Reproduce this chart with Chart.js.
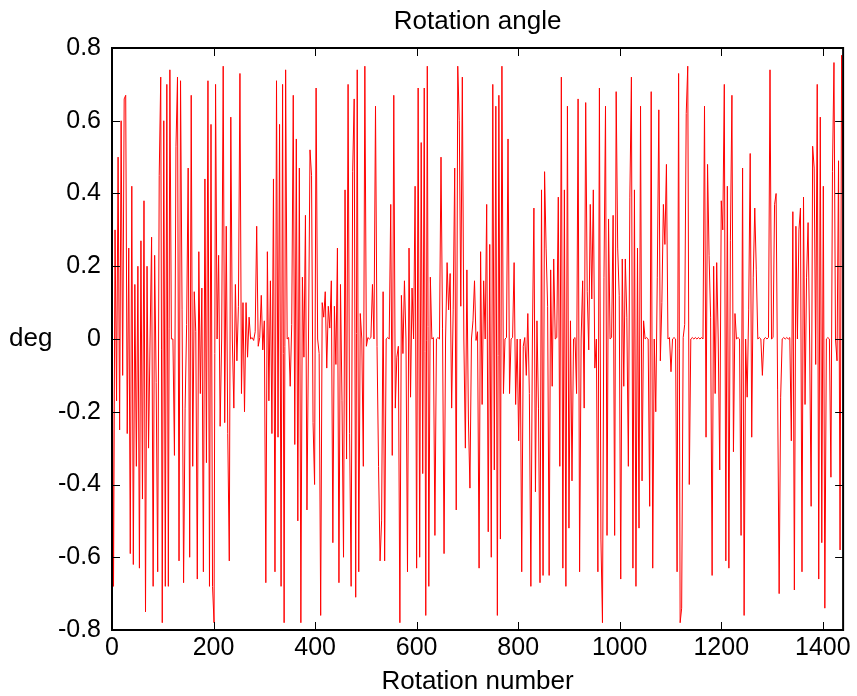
<!DOCTYPE html>
<html>
<head>
<meta charset="utf-8">
<script src="https://cdn.jsdelivr.net/npm/chart.js@4/dist/chart.umd.min.js"></script>
<style>
  html, body { margin: 0; padding: 0; background: #fff; }
  #wrap { width: 857px; height: 696px; }
</style>
</head>
<body>
<div id="wrap"><canvas id="chart" width="857" height="696"></canvas></div>
<script>
// Rotation angle (deg), one reading every ROTATION_STEP rotations, in blocks of 240 rotations
const ROTATION_STEP = 3;

const angle0000 = [
  0.2, -0.68, 0.3, -0.17, 0.5, -0.25, 0.6, -0.1, 0.66, 0.67,
  -0.26, 0.25, -0.59, 0.42, -0.62, 0.15, -0.35, 0.2, -0.63, 0.27,
  -0.44, 0.38, -0.75, 0.2, -0.3, 0.0, 0.28, -0.68, 0.23, -0.12,
  -0.64, 0.45, 0.72, -0.78, 0.6, -0.68, 0.7, -0.68, 0.74, 0.0,
  0.0, -0.32, 0.53, 0.72, -0.61, 0.71, 0.08, -0.67, -0.19, 0.04,
  0.47, -0.6, 0.67, -0.35, 0.13, 0.02, -0.66, 0.24, -0.15, 0.14,
  -0.64, 0.44, -0.34, 0.71, -0.68, 0.59, -0.68, -0.78, 0.7, 0.0,
  0.23, -0.24, 0.0, 0.75, -0.23, 0.31, -0.26, -0.61, 0.61, 0.0
];
const angle0240 = [
  -0.19, 0.15, -0.06, 0.09, 0.73, -0.15, 0.1, -0.2, 0.1, -0.05,
  0.06, 0.0, 0.004, -0.004, 0.02, 0.31, -0.02, 0.004, 0.12, -0.03,
  0.05, -0.67, 0.24, -0.17, 0.16, -0.26, 0.44, -0.64, 0.71, -0.27,
  0.59, -0.68, 0.7, -0.78, 0.74, 0.0, 0.004, -0.13, 0.04, 0.67,
  -0.29, 0.55, -0.5, 0.47, -0.78, 0.17, -0.05, 0.34, -0.47, 0.0,
  0.52, 0.45, -0.23, -0.4, 0.69, 0.0, -0.04, -0.76, 0.1, 0.06,
  0.13, -0.08, 0.09, 0.03, 0.16, -0.56, 0.09, -0.07, 0.25, -0.67,
  0.15, -0.17, -0.6, 0.41, -0.33, 0.7, -0.26, -0.68, 0.46, 0.66
];
const angle0480 = [
  -0.71, 0.74, -0.64, 0.07, 0.0, -0.35, 0.75, -0.02, 0.004, 0.0,
  0.004, 0.15, 0.0, 0.64, -0.02, -0.35, -0.61, -0.5, 0.13, -0.61,
  0.0, 0.004, 0.0, 0.37, -0.32, 0.67, -0.19, -0.05, -0.02, -0.78,
  0.12, -0.04, 0.16, 0.0, -0.64, 0.25, -0.16, 0.14, 0.0, 0.42,
  -0.63, 0.69, -0.6, 0.54, -0.37, 0.69, -0.76, 0.75, -0.68, 0.17,
  0.0, 0.004, -0.54, 0.0, 0.004, 0.0, 0.5, 0.03, -0.59, 0.0,
  0.21, 0.08, 0.18, -0.19, 0.08, 0.47, -0.47, 0.75, 0.6, 0.09,
  0.72, 0.0, -0.3, 0.19, -0.22, -0.41, 0.0, 0.05, 0.16, -0.004
];
const angle0720 = [
  0.02, -0.63, 0.24, -0.18, 0.16, 0.0, 0.37, -0.53, 0.26, -0.6,
  0.7, -0.36, 0.64, -0.76, 0.67, -0.55, 0.75, -0.15, 0.0, 0.004,
  0.55, -0.15, 0.0, 0.004, 0.21, -0.18, 0.0, -0.28, 0.0, -0.64,
  -0.02, 0.004, -0.1, 0.07, -0.15, -0.68, 0.0, 0.36, -0.42, 0.05,
  -0.19, -0.67, 0.41, -0.65, 0.46, 0.25, 0.09, -0.65, 0.19, -0.13,
  0.22, 0.0, 0.004, 0.39, -0.35, 0.72, -0.63, 0.41, -0.68, 0.64,
  -0.52, 0.05, -0.39, 0.0, 0.004, -0.15, 0.66, -0.64, 0.0, 0.16,
  -0.19, 0.65, 0.13, -0.03, 0.37, 0.11, 0.41, -0.08, 0.0, -0.64
];
const angle0960 = [
  0.69, -0.55, -0.78, 0.17, 0.64, -0.54, 0.33, 0.0, 0.004, 0.34,
  -0.54, 0.68, 0.25, 0.12, -0.66, 0.22, -0.13, 0.22, 0.06, -0.35,
  0.39, 0.72, -0.63, 0.41, -0.68, 0.25, -0.52, 0.64, -0.39, 0.05,
  0.0, 0.004, 0.0, -0.46, 0.68, -0.63, 0.0, -0.2, 0.17, 0.63,
  -0.06, 0.1, 0.37, 0.26, 0.48, 0.0, 0.004, -0.09, 0.0, 0.004,
  0.0, -0.64, 0.73, -0.78, -0.74, 0.004, 0.04, 0.62, 0.75, -0.4,
  0.0, 0.004, 0.0, 0.004, 0.0, 0.004, 0.0, 0.004, 0.0, 0.64,
  -0.27, 0.48, 0.23, 0.06, -0.65, 0.2, -0.15, 0.21, 0.0, -0.36
];
const angle1200 = [
  0.38, 0.3, 0.7, -0.61, 0.42, -0.63, 0.27, 0.67, -0.31, 0.07,
  0.0, 0.004, 0.0, -0.54, 0.47, -0.76, 0.0, -0.16, 0.08, 0.51,
  -0.27, 0.17, 0.36, 0.19, 0.0, 0.004, 0.0, -0.1, 0.0, 0.004,
  0.0, 0.004, 0.74, 0.0, 0.004, 0.37, 0.4, -0.14, -0.7, -0.16,
  0.0, 0.004, 0.0, 0.004, 0.0, 0.004, -0.28, 0.35, -0.69, 0.31,
  0.0, 0.3, 0.36, -0.64, 0.39, -0.18, 0.17, 0.32, 0.0, -0.46,
  0.53, 0.47, -0.07, 0.7, -0.66, 0.61, -0.56, 0.42, -0.74, 0.0,
  0.004, 0.0, -0.38, 0.46, 0.76, 0.0, -0.06, 0.49, -0.58, 0.78,
  0.4
];

const xTickValues = [0, 200, 400, 600, 800, 1000, 1200, 1400];
const yTickValues = [-0.8, -0.6, -0.4, -0.2, 0, 0.2, 0.4, 0.6, 0.8];

const FAMILY = '"Liberation Sans", Arial, sans-serif';
const LABEL_FONT = { family: FAMILY, size: 26, lineHeight: 1 };
const TICK_FONT = { family: FAMILY, size: 25, lineHeight: 1 };

const angles = [].concat(angle0000, angle0240, angle0480, angle0720, angle0960, angle1200);
const points = angles.map((v, i) => ({ x: i * ROTATION_STEP, y: v }));

// MATLAB-style box with inward ticks on all four sides, plus the horizontal "deg" label
const boxAndTicks = {
  id: 'boxAndTicks',
  afterDraw(chart) {
    const { ctx, chartArea: a, scales: { x, y } } = chart;
    const len = 8;
    ctx.save();
    ctx.strokeStyle = '#000';
    ctx.lineWidth = 1;
    ctx.beginPath();
    x.ticks.forEach(t => {
      const px = Math.round(x.getPixelForValue(t.value)) + 0.5;
      ctx.moveTo(px, a.bottom); ctx.lineTo(px, a.bottom - len);
      ctx.moveTo(px, a.top); ctx.lineTo(px, a.top + len);
    });
    y.ticks.forEach(t => {
      const py = Math.round(y.getPixelForValue(t.value)) + 0.5;
      ctx.moveTo(a.left, py); ctx.lineTo(a.left + len, py);
      ctx.moveTo(a.right, py); ctx.lineTo(a.right - len, py);
    });
    ctx.stroke();
    ctx.lineWidth = 2;
    ctx.strokeRect(a.left, a.top, a.right - a.left, a.bottom - a.top);

    ctx.fillStyle = '#000';
    ctx.font = LABEL_FONT.size + 'px ' + FAMILY;
    ctx.textAlign = 'left';
    ctx.textBaseline = 'middle';
    ctx.fillText('deg', 9, y.getPixelForValue(0));
    ctx.restore();
  }
};

new Chart(document.getElementById('chart').getContext('2d'), {
  type: 'line',
  data: {
    datasets: [{
      data: points,
      borderColor: '#ff0000',
      borderWidth: 1,
      pointRadius: 0,
      tension: 0,
      fill: false
    }]
  },
  options: {
    responsive: false,
    animation: false,
    events: [],
    layout: { padding: { left: 0, right: 13, top: 0, bottom: 0 } },
    plugins: {
      legend: { display: false },
      tooltip: { enabled: false },
      title: {
        display: true,
        fullSize: false,
        text: 'Rotation angle',
        color: '#000',
        font: { ...LABEL_FONT, weight: 'normal' },
        padding: { top: 9, bottom: 13 }
      }
    },
    scales: {
      x: {
        type: 'linear',
        min: 0,
        max: 1440,
        afterBuildTicks: s => { s.ticks = xTickValues.map(v => ({ value: v })); },
        afterFit: s => { s.height = 66; },
        grid: { display: false, drawTicks: false },
        border: { display: false },
        ticks: { color: '#000', font: TICK_FONT, padding: 6, maxRotation: 0, autoSkip: false, callback: v => String(v) },
        title: { display: true, text: 'Rotation number', color: '#000', font: LABEL_FONT, padding: { top: 0, bottom: 1 } }
      },
      y: {
        min: -0.8,
        max: 0.8,
        afterBuildTicks: s => { s.ticks = yTickValues.map(v => ({ value: v })); },
        afterFit: s => { s.width = 112; },
        grid: { display: false, drawTicks: false },
        border: { display: false },
        ticks: {
          color: '#000', font: TICK_FONT, padding: 11, autoSkip: false,
          callback: v => (Math.abs(v) < 1e-9 ? '0' : Number(v).toFixed(1))
        }
      }
    }
  },
  plugins: [boxAndTicks]
});
</script>
</body>
</html>
